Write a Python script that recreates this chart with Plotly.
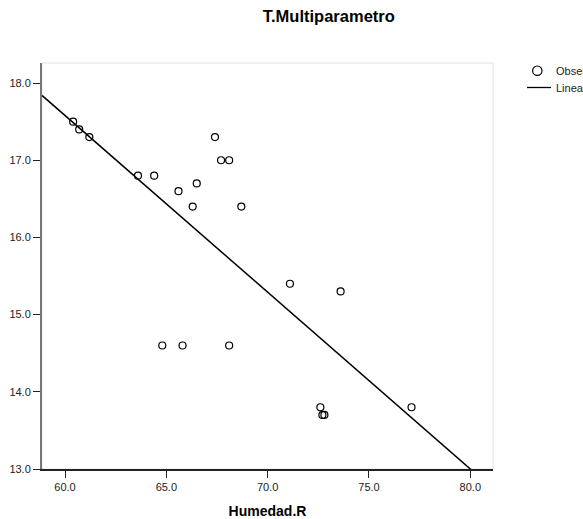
import plotly.graph_objects as go

# ---- data ----
humedad = [60.4, 60.7, 61.2, 63.6, 64.4, 65.6, 66.5, 66.3, 67.4, 67.7, 68.1,
           68.7, 71.1, 73.6, 64.8, 65.8, 68.1, 72.6, 72.7, 72.8, 77.1]
tmulti = [17.5, 17.4, 17.3, 16.8, 16.8, 16.6, 16.7, 16.4, 17.3, 17.0, 17.0,
          16.4, 15.4, 15.3, 14.6, 14.6, 14.6, 13.8, 13.7, 13.7, 13.8]
fit_intercept = 31.32
fit_slope = -0.229
x_ticks = [60.0, 65.0, 70.0, 75.0, 80.0]
y_ticks = [13.0, 14.0, 15.0, 16.0, 17.0, 18.0]
legend_labels = ["Observado", "Lineal"]

x_range = [58.864, 81.12]
y_range = [13.0, 18.26]

FONT = "Liberation Sans, Arial, sans-serif"

line_x = [x_range[0], x_range[1]]
line_y = [fit_intercept + fit_slope * v for v in line_x]

fig = go.Figure()
fig.add_trace(go.Scatter(
    x=line_x, y=line_y, mode="lines",
    line=dict(color="black", width=1.5), showlegend=False, hoverinfo="skip"))
fig.add_trace(go.Scatter(
    x=humedad, y=tmulti, mode="markers",
    marker=dict(symbol="circle-open", size=7, color="black", line=dict(width=1.2)),
    showlegend=False))

W, H = 583, 519
ml, mr, mt, mb = 42, 90, 63, 50
pw, ph = W - ml - mr, H - mt - mb


def px2paper_x(px):
    return (px - ml) / pw


def px2paper_y(py):
    return (H - mb - py) / ph


shapes = [
    # faint frame of plot area
    dict(type="rect", xref="paper", yref="paper", x0=0, x1=1, y0=0, y1=1,
         line=dict(color="#e2e2e2", width=1), layer="below"),
    # legend circle
    dict(type="circle", xref="paper", yref="paper", xsizemode="pixel", ysizemode="pixel",
         xanchor=px2paper_x(537.3), yanchor=px2paper_y(70.7),
         x0=-4.7, x1=4.7, y0=-4.7, y1=4.7, line=dict(color="black", width=1.2)),
    # legend line
    dict(type="line", xref="paper", yref="paper",
         x0=px2paper_x(527), x1=px2paper_x(551), y0=px2paper_y(87.5), y1=px2paper_y(87.5),
         line=dict(color="black", width=1.3)),
]

annotations = [
    dict(text=legend_labels[0], xref="paper", yref="paper", x=px2paper_x(554),
         y=px2paper_y(70.7), xanchor="left", yanchor="middle", showarrow=False,
         font=dict(family=FONT, size=11, color="#222")),
    dict(text=legend_labels[1], xref="paper", yref="paper", x=px2paper_x(554),
         y=px2paper_y(88), xanchor="left", yanchor="middle", showarrow=False,
         font=dict(family=FONT, size=11, color="#222")),
]

fig.update_layout(
    width=W, height=H,
    margin=dict(l=ml, r=mr, t=mt, b=mb, pad=0, autoexpand=False),
    paper_bgcolor="white", plot_bgcolor="white",
    font=dict(family=FONT, size=11, color="#222"),
    title=dict(text="<b>T.Multiparametro</b>", x=328.8 / W, xanchor="center", xref="container",
               y=1 - 16 / H, yanchor="middle", yref="container",
               font=dict(family=FONT, size=16.5, color="black")),
    shapes=shapes, annotations=annotations,
    showlegend=False,
)
fig.update_xaxes(
    range=x_range, tickvals=x_ticks, tickformat=".1f",
    showgrid=False, zeroline=False, automargin=False,
    showline=True, linecolor="#222", linewidth=1.5,
    ticks="outside", ticklen=7, tickwidth=1.3, tickcolor="#222",
    tickfont=dict(family=FONT, size=11, color="#222"),
    title=dict(text="<b>Humedad.R</b>", standoff=15,
               font=dict(family=FONT, size=14, color="black")),
)
fig.update_yaxes(
    range=y_range, tickvals=y_ticks, tickformat=".1f",
    showgrid=False, zeroline=False, automargin=False,
    showline=True, linecolor="#777", linewidth=2,
    ticks="outside", ticklen=7, tickwidth=1.3, tickcolor="#222",
    tickfont=dict(family=FONT, size=11, color="#222"),
)

fig.write_html("out.html")
